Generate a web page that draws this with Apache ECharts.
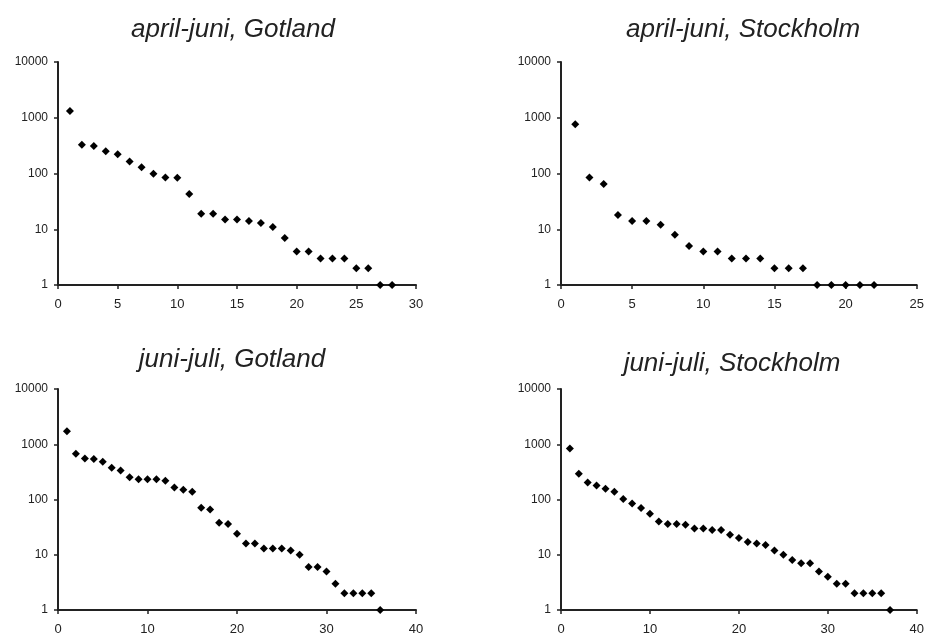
<!DOCTYPE html>
<html>
<head>
<meta charset="utf-8">
<script src="https://cdn.jsdelivr.net/npm/echarts@6/dist/echarts.min.js"></script>
<style>
  html, body { margin: 0; padding: 0; background: #fff; }
  #chart { width: 927px; height: 636px; }
</style>
</head>
<body>
<div id="chart"></div>
<script>
// rank 1..n, antal per rang (logaritmisk y-axel)
const aprilGotland = [1320, 329, 311, 250, 221, 165, 129, 99, 85, 84, 43, 19, 19, 15, 15, 14, 13, 11, 7, 4, 4, 3, 3, 3, 2, 2, 1, 1];
const aprilStockholm = [762, 85, 65, 18, 14, 14, 12, 8, 5, 4, 4, 3, 3, 3, 2, 2, 2, 1, 1, 1, 1, 1];
const juniGotland = [1718, 673, 555, 540, 484, 377, 334, 254, 233, 233, 233, 218, 165, 150, 138, 71, 66, 38, 36, 24, 16, 16, 13, 13, 13, 12, 10, 6, 6, 5, 3, 2, 2, 2, 2, 1];
const juniStockholm = [839, 291, 203, 180, 156, 138, 102, 85, 70, 55, 40, 36, 36, 35, 30, 30, 28, 28, 23, 20, 17, 16, 15, 12, 10, 8, 7, 7, 5, 4, 3, 3, 2, 2, 2, 2, 1];

const titles = ['april-juni, Gotland', 'april-juni, Stockholm', 'juni-juli, Gotland', 'juni-juli, Stockholm'];
const xMax = [30, 25, 40, 40];
const xStep = [5, 5, 10, 10];
const seriesData = [aprilGotland, aprilStockholm, juniGotland, juniStockholm];

const ink = '#222';
const font = '"Liberation Sans", Arial, sans-serif';

// panelernas placering i px
const grids = [
  { left: 58, top: 62, width: 358, height: 223 },
  { left: 561, top: 62, width: 358, height: 223 },
  { left: 58, top: 389, width: 358, height: 223 },
  { left: 561, top: 389, width: 358, height: 223 }
];
const titlePos = [[233, 30], [743, 30], [232, 360], [732, 364]];

const chart = echarts.init(document.getElementById('chart'));

const option = {
  backgroundColor: '#fff',
  animation: false,
  graphic: titles.map((t, i) => ({
    type: 'text',
    x: titlePos[i][0],
    y: titlePos[i][1],
    style: {
      text: t,
      font: 'italic 26px ' + font,
      fill: ink,
      textAlign: 'center',
      textVerticalAlign: 'middle'
    }
  })),
  grid: grids,
  xAxis: grids.map((g, i) => ({
    type: 'value',
    gridIndex: i,
    min: 0,
    max: xMax[i],
    interval: xStep[i],
    axisLine: { show: true, onZero: false, lineStyle: { color: ink, width: 2 } },
    axisTick: { show: true, length: 4, lineStyle: { color: ink, width: 1.5 } },
    axisLabel: { color: ink, fontSize: 13, fontFamily: font, margin: 13 },
    splitLine: { show: false }
  })),
  yAxis: grids.map((g, i) => ({
    type: 'log',
    logBase: 10,
    gridIndex: i,
    min: 1,
    max: 10000,
    axisLine: { show: true, lineStyle: { color: ink, width: 2 } },
    axisTick: { show: true, length: 4, lineStyle: { color: ink, width: 1.5 } },
    axisLabel: {
      color: ink, fontSize: 12, fontFamily: font, margin: 10,
      formatter: v => String(Math.round(v))
    },
    splitLine: { show: false }
  })),
  series: seriesData.map((d, i) => ({
    type: 'scatter',
    xAxisIndex: i,
    yAxisIndex: i,
    symbol: 'diamond',
    symbolSize: 8,
    itemStyle: { color: '#000', opacity: 1 },
    data: d.map((v, k) => [k + 1, v])
  }))
};

chart.setOption(option);
</script>
</body>
</html>
